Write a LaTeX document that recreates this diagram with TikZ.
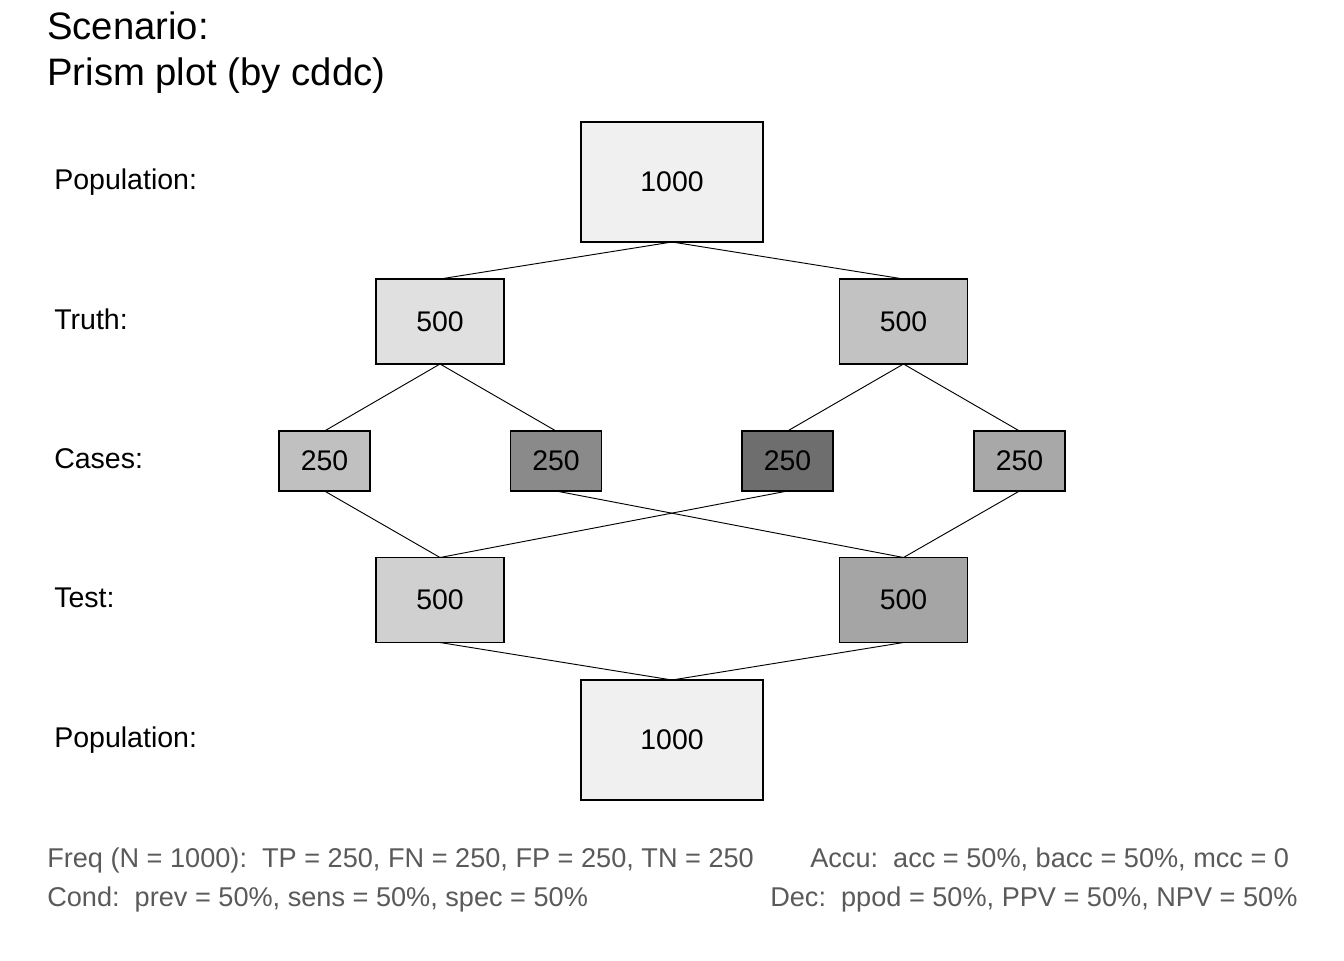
\documentclass[tikz,border=0pt]{standalone}
\usepackage{fontspec}
\setmainfont{Liberation Sans}
\definecolor{txtgray}{HTML}{5A5A5A}
\definecolor{cPop}{HTML}{F0F0F0}
\definecolor{cTrL}{HTML}{E0E0E0}
\definecolor{cTrR}{HTML}{C2C2C2}
\definecolor{cC1}{HTML}{C0C0C0}
\definecolor{cC2}{HTML}{8A8A8A}
\definecolor{cC3}{HTML}{6E6E6E}
\definecolor{cC4}{HTML}{A8A8A8}
\definecolor{cTeL}{HTML}{D0D0D0}
\definecolor{cTeR}{HTML}{A5A5A5}
\newcommand{\bnum}[1]{\raisebox{-1.2pt}{#1}}
\tikzset{
  box/.style={draw=black, line width=1.1pt, rectangle, outer sep=0pt, inner sep=0pt,
    font=\fontsize{21.3}{25}\selectfont},
  bigbox/.style={box, minimum width=182*0.75pt, minimum height=120*0.75pt},
  midbox/.style={box, minimum width=128*0.75pt, minimum height=85*0.75pt},
  smallbox/.style={box, minimum width=91*0.75pt, minimum height=60*0.75pt},
  conn/.style={draw=black, line width=0.7pt},
  rowlab/.style={anchor=base west, inner sep=0pt, font=\fontsize{21.4}{25}\selectfont},
  titletxt/.style={anchor=base west, inner sep=0pt, font=\fontsize{28.7}{34}\selectfont},
  foot/.style={anchor=base west, inner sep=0pt, text=txtgray, font=\fontsize{20.35}{24}\selectfont}
}
\begin{document}
\begin{tikzpicture}[x=0.75pt, y=-0.75pt]
\useasboundingbox[fill=white] (0,0) rectangle (1344,960);
% title
\node[titletxt] (t1) at (47,39) {Scenario:};
\node[titletxt] (t2) at (47,85) {Prism plot (by cddc)};
% row labels
\node[rowlab] (l1) at (54,189) {Population:};
\node[rowlab] (l2) at (54,329) {Truth:};
\node[rowlab] (l3) at (54,468) {Cases:};
\node[rowlab] (l4) at (54,607) {Test:};
\node[rowlab] (l5) at (54,747) {Population:};
% boxes
\node[bigbox, fill=cPop] (pop) at (672,182) {\bnum{1000}};
\node[midbox, fill=cTrL] (trl) at (440,321.5) {\bnum{500}};
\node[midbox, fill=cTrR] (trr) at (903.5,321.5) {\bnum{500}};
\node[smallbox, fill=cC1] (c1) at (324.5,461) {\bnum{250}};
\node[smallbox, fill=cC2] (c2) at (556,461) {\bnum{250}};
\node[smallbox, fill=cC3] (c3) at (787.5,461) {\bnum{250}};
\node[smallbox, fill=cC4] (c4) at (1019.5,461) {\bnum{250}};
\node[midbox, fill=cTeL] (tel) at (440,600) {\bnum{500}};
\node[midbox, fill=cTeR] (ter) at (903.5,600) {\bnum{500}};
\node[bigbox, fill=cPop] (pop2) at (672,740) {\bnum{1000}};
% connectors
\draw[conn] (pop.south) -- (trl.north);
\draw[conn] (pop.south) -- (trr.north);
\draw[conn] (trl.south) -- (c1.north);
\draw[conn] (trl.south) -- (c2.north);
\draw[conn] (trr.south) -- (c3.north);
\draw[conn] (trr.south) -- (c4.north);
\draw[conn] (c1.south) -- (tel.north);
\draw[conn] (c3.south) -- (tel.north);
\draw[conn] (c2.south) -- (ter.north);
\draw[conn] (c4.south) -- (ter.north);
\draw[conn] (tel.south) -- (pop2.north);
\draw[conn] (ter.south) -- (pop2.north);
% footer
\node[foot] (f1) at (47,867) {Freq (N = 1000):\ \ TP = 250, FN = 250, FP = 250, TN = 250};
\node[foot] (f2) at (47,906) {Cond:\ \ prev = 50\%, sens = 50\%, spec = 50\%};
\node[foot] (f3) at (810,867) {Accu:\ \ acc = 50\%, bacc = 50\%, mcc = 0};
\node[foot] (f4) at (770,906) {Dec:\ \ ppod = 50\%, PPV = 50\%, NPV = 50\%};
\end{tikzpicture}
\end{document}
